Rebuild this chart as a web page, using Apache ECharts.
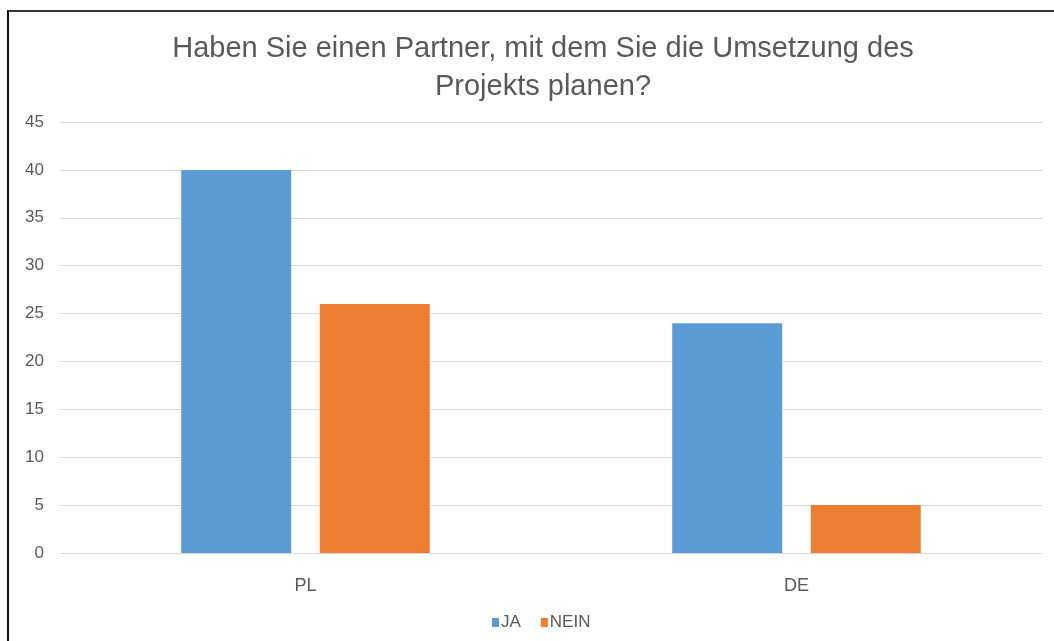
<!DOCTYPE html>
<html>
<head>
<meta charset="utf-8">
<script src="https://cdn.jsdelivr.net/npm/echarts@6/dist/echarts.min.js"></script>
<style>
  html, body { margin: 0; padding: 0; background: #fff; }
  #chart { position: absolute; left: 0; top: 0; width: 1054px; height: 641px; }
  #frame { position: absolute; left: 7px; top: 10px; width: 1060px; height: 640px;
           border-left: 2px solid #111; border-top: 2px solid #333; pointer-events: none; }
</style>
</head>
<body>
<div id="chart"></div>
<div id="frame"></div>
<script>
// Daten
var categories = ['PL', 'DE'];
var seriesNames = ['JA', 'NEIN'];
var jaValues = [40, 24];
var neinValues = [26, 5];
var colors = ['#5B9BD5', '#ED7D31'];

var chart = echarts.init(document.getElementById('chart'));
var txt = '#595959';
var font = 'Liberation Sans';
var option = {
  animation: false,
  color: colors,
  title: {
    text: 'Haben Sie einen Partner, mit dem Sie die Umsetzung des\nProjekts planen?',
    left: 538,
    top: 25,
    textAlign: 'center',
    textStyle: { color: txt, fontSize: 29, fontWeight: 'normal', fontFamily: font, lineHeight: 38 }
  },
  legend: {
    data: seriesNames,
    left: 487,
    top: 609,
    itemWidth: 7,
    itemHeight: 9,
    itemGap: 20,
    icon: 'rect',
    textStyle: { color: txt, fontSize: 17, fontFamily: font, padding: [0, 0, 0, -3] }
  },
  grid: { left: 60, right: 12, top: 122, bottom: 88, containLabel: false },
  xAxis: {
    type: 'category',
    data: categories,
    axisLine: { lineStyle: { color: '#D9D9D9', width: 1 } },
    axisTick: { show: false },
    axisLabel: { color: txt, fontSize: 18, fontFamily: font, margin: 24 }
  },
  yAxis: {
    type: 'value',
    min: 0,
    max: 45,
    interval: 5,
    axisLine: { show: false },
    axisTick: { show: false },
    splitLine: { lineStyle: { color: '#D9D9D9', width: 1 } },
    axisLabel: { color: txt, fontSize: 17, fontFamily: font, margin: 16 }
  },
  series: [
    { name: 'JA', type: 'bar', data: jaValues, barWidth: '22.4%', barGap: '26%' },
    { name: 'NEIN', type: 'bar', data: neinValues, barWidth: '22.4%', barGap: '26%' }
  ]
};
chart.setOption(option);
</script>
</body>
</html>
